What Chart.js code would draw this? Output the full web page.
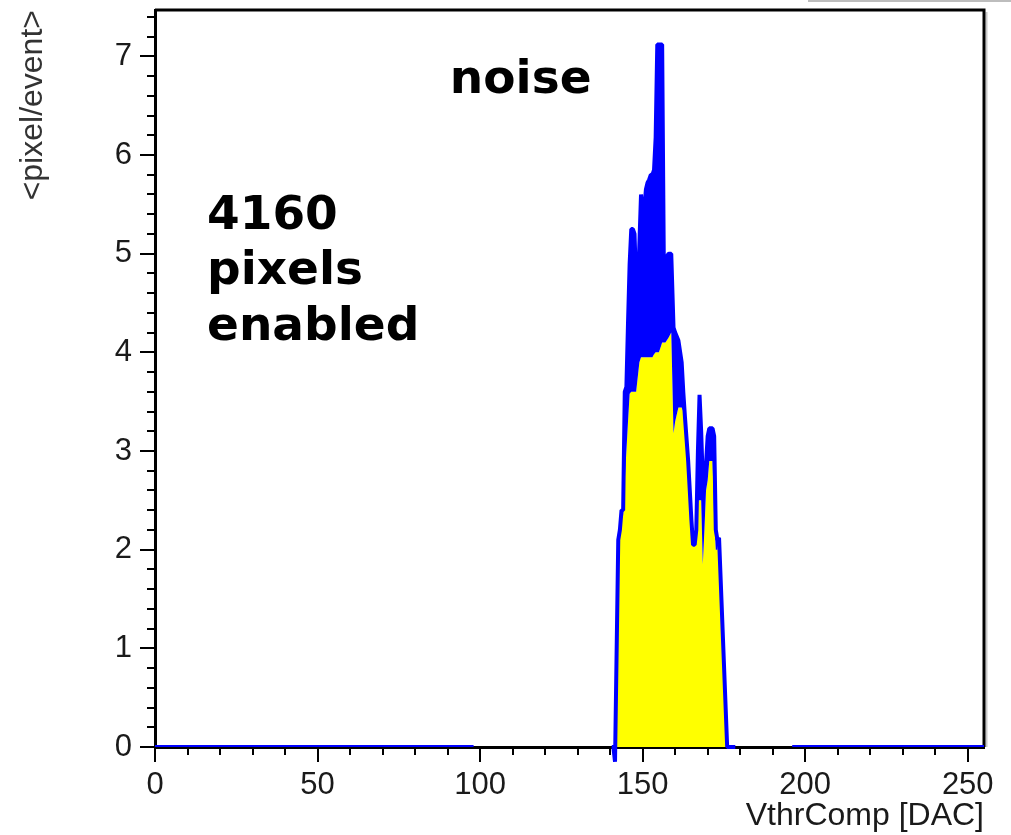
<!DOCTYPE html>
<html>
<head>
<meta charset="utf-8">
<script src="https://cdn.jsdelivr.net/npm/chart.js@4.4.1/dist/chart.umd.min.js"></script>
<style>
    html, body { margin: 0; padding: 0; background: #ffffff; }
</style>
</head>
<body>
<canvas id="chart" width="1011" height="835"></canvas>
<script>
// noise scan: mean hit pixels per event vs VthrComp
// the trace wiggles fast around the peak, so it is kept as an upper and lower envelope
const peakX = [140.5, 141, 141.5, 142.5, 143, 143.5, 144, 144.5, 145, 145.5, 146, 146.5, 147, 147.5,
    148, 148.5, 149, 149.5, 150, 150.5, 151, 151.5, 152, 152.5, 153, 153.5, 154, 154.5, 155, 155.5,
    156, 156.5, 157, 158, 158.8, 159.5, 160, 161, 162, 162.5, 163, 164, 165, 165.5, 166, 166.5,
    167, 167.5, 168, 168.5, 169, 169.5, 170, 170.5, 171, 171.5, 172, 172.5, 173, 173.5, 176, 178.5];
const peakUpper = [0, 0, -0.15, 2.1, 2.2, 2.4, 2.4, 3.6, 3.65, 4.3, 4.9, 5.25, 5.25, 5.2,
    4.7, 4.6, 5.1, 5.6, 5.4, 5.45, 5.65, 5.72, 5.75, 5.8, 5.8, 5.85, 6.18, 7.12, 7.12, 7.12,
    7.12, 4.95, 4.95, 5.0, 5.0, 4.25, 4.2, 4.12, 3.9, 3.6, 3.35, 2.9, 2.3, 2.05, 2.05, 2.2,
    3.0, 3.57, 3.2, 2.7, 2.85, 2.87, 3.15, 3.23, 3.23, 3.23, 3.15, 2.2, 2.1, 2.12, 0, 0];
const peakLower = [0, 0, -0.15, 2.1, 2.2, 2.3, 2.35, 2.7, 3.0, 3.3, 3.58, 3.6, 3.6, 3.6,
    3.6, 3.75, 3.9, 3.95, 3.95, 3.95, 3.95, 3.95, 3.95, 3.95, 3.95, 3.98, 4.0, 4.0, 4.0, 4.05,
    4.1, 4.1, 4.1, 4.15, 4.2, 3.18, 3.3, 3.44, 3.44, 3.4, 3.2, 2.7, 2.25, 2.05, 2.05, 2.1,
    2.5, 2.5, 2.5, 1.85, 2.2, 2.6, 2.7, 2.9, 2.9, 2.9, 2.3, 2.0, 2.0, 2.12, 0, 0];

// empty bins drawn as a flat line, with a gap where the scan skipped
const baseX = [0, 98, 140, 196, 255];
const baseY = [0, 0, null, 0, 0];

const xTickValues = [0, 50, 100, 150, 200, 250];
const yTickValues = [0, 1, 2, 3, 4, 5, 6, 7];
const xRange = [0, 255];
const yRange = [0, 7.47];

const noteTitle = 'noise';
const noteLines = ['4160', 'pixels', 'enabled'];

const tickFont = { family: 'Liberation Sans', size: 31 };
const titleFont = { family: 'Liberation Sans', size: 32 };

const extras = {
    id: 'extras',
    beforeDatasetsDraw(chart) {
        const { ctx, chartArea: a, scales: { x, y } } = chart;
        ctx.save();
        ctx.strokeStyle = '#000000';
        ctx.lineWidth = 2;
        ctx.beginPath();
        // minor ticks, 5 per unit on y, every 10 on x
        for (let i = 1; i * 0.2 < yRange[1]; i++) {
            if (i % 5 === 0) continue;
            const py = Math.round(y.getPixelForValue(i * 0.2));
            ctx.moveTo(a.left - 8, py);
            ctx.lineTo(a.left, py);
        }
        for (let v = 10; v <= xRange[1]; v += 10) {
            if (v % 50 === 0) continue;
            const px = Math.round(x.getPixelForValue(v));
            ctx.moveTo(px, a.bottom);
            ctx.lineTo(px, a.bottom + 8);
        }
        ctx.stroke();

        // light shadow, then frame top and right
        ctx.strokeStyle = '#c8c8c8';
        ctx.lineWidth = 2;
        ctx.beginPath();
        ctx.moveTo(a.right + 2.5, a.top + 2);
        ctx.lineTo(a.right + 2.5, a.bottom);
        ctx.stroke();
        ctx.strokeStyle = '#000000';
        ctx.lineWidth = 3;
        ctx.beginPath();
        ctx.moveTo(a.left, a.top);
        ctx.lineTo(a.right, a.top);
        ctx.lineTo(a.right, a.bottom);
        ctx.stroke();

        // edge of the stats box, cut off at the top
        ctx.strokeStyle = '#bdbdbd';
        ctx.lineWidth = 2;
        ctx.beginPath();
        ctx.moveTo(808, 1);
        ctx.lineTo(1011, 1);
        ctx.stroke();
        ctx.restore();
    },
    afterDraw(chart) {
        const { ctx, scales: { x, y } } = chart;
        ctx.save();
        ctx.fillStyle = '#000000';
        ctx.font = 'bold 47px "DejaVu Sans"';
        ctx.textBaseline = 'alphabetic';
        ctx.fillText(noteTitle, x.getPixelForValue(90.7), y.getPixelForValue(6.63));
        noteLines.forEach((t, i) => {
            ctx.fillText(t, x.getPixelForValue(16), y.getPixelForValue(5.25 - i * 0.56));
        });
        ctx.restore();
    }
};

const ctx = document.getElementById('chart').getContext('2d');

new Chart(ctx, {
    type: 'line',
    data: {
        datasets: [
            {
                label: 'noise',
                data: peakX.map((v, i) => ({ x: v, y: peakUpper[i] })),
                borderColor: '#0000ff',
                backgroundColor: '#0000ff',
                borderWidth: 4,
                borderJoinStyle: 'bevel',
                fill: '+1',
                tension: 0,
                pointRadius: 0,
                clip: false
            },
            {
                label: 'noise (low)',
                data: peakX.map((v, i) => ({ x: v, y: peakLower[i] })),
                borderWidth: 0,
                backgroundColor: '#ffff00',
                fill: 'origin',
                tension: 0,
                pointRadius: 0
            },
            {
                label: 'baseline',
                data: baseX.map((v, i) => ({ x: v, y: baseY[i] })),
                borderColor: '#0000ff',
                borderWidth: 4,
                fill: false,
                spanGaps: false,
                pointRadius: 0
            }
        ]
    },
    options: {
        responsive: false,
        animation: false,
        devicePixelRatio: 1,
        layout: {
            padding: { top: 10, right: 27, left: 0, bottom: 0 }
        },
        plugins: {
            legend: { display: false },
            tooltip: { enabled: false }
        },
        scales: {
            x: {
                type: 'linear',
                min: xRange[0],
                max: xRange[1],
                afterBuildTicks: (scale) => {
                    scale.ticks = xTickValues.map(v => ({ value: v }));
                },
                afterFit: (scale) => {
                    scale.height = 88;
                    scale.paddingLeft = 0;
                    scale.paddingRight = 0;
                },
                ticks: {
                    color: '#1a1a1a',
                    font: tickFont,
                    padding: 5,
                    maxRotation: 0,
                    autoSkip: false
                },
                grid: {
                    drawOnChartArea: false,
                    drawTicks: true,
                    tickLength: 15,
                    lineWidth: 2,
                    tickWidth: 2,
                    tickColor: '#000000'
                },
                border: { display: true, color: '#000000', width: 3 },
                title: {
                    display: true,
                    text: 'VthrComp [DAC]',
                    align: 'end',
                    color: '#1a1a1a',
                    font: titleFont,
                    padding: { top: 0, bottom: 0 }
                }
            },
            y: {
                type: 'linear',
                min: yRange[0],
                max: yRange[1],
                afterBuildTicks: (scale) => {
                    scale.ticks = yTickValues.map(v => ({ value: v }));
                },
                afterFit: (scale) => {
                    scale.width = 155;
                    scale.paddingTop = 0;
                    scale.paddingBottom = 0;
                },
                ticks: {
                    color: '#1a1a1a',
                    font: tickFont,
                    padding: 8
                },
                grid: {
                    drawOnChartArea: false,
                    drawTicks: true,
                    tickLength: 15,
                    lineWidth: 2,
                    tickWidth: 2,
                    tickColor: '#000000'
                },
                border: { display: true, color: '#000000', width: 3 },
                title: {
                    display: true,
                    text: '<pixel/event>',
                    align: 'end',
                    color: '#333333',
                    font: titleFont,
                    padding: { top: 14, bottom: 0 }
                }
            }
        }
    },
    plugins: [extras]
});
</script>
</body>
</html>
